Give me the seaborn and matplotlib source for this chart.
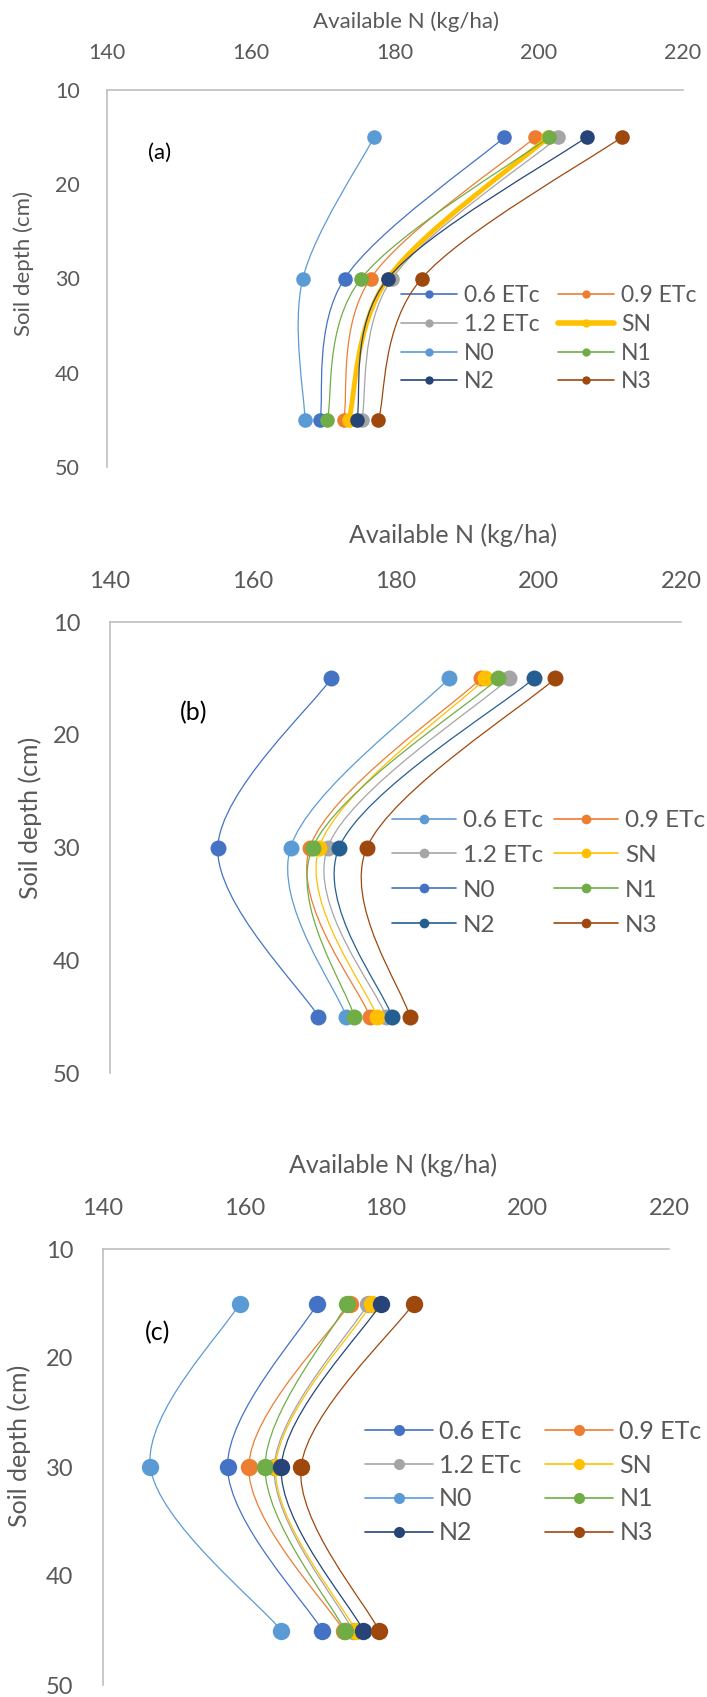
import numpy as np
import pandas as pd
import matplotlib
matplotlib.use('Agg')
import matplotlib.pyplot as plt
import seaborn as sns
from matplotlib.path import Path
from matplotlib.patches import PathPatch
from matplotlib.lines import Line2D

# --- data ---
depth = [15, 30, 45]
series = ['0.6 ETc', '0.9 ETc', '1.2 ETc', 'SN', 'N0', 'N1', 'N2', 'N3']

# panel (a)
a_06 = [195.2, 173.0, 169.6]
a_09 = [199.5, 176.6, 172.9]
a_12 = [202.7, 179.6, 175.4]
a_sn = [201.3, 179.0, 173.6]
a_n0 = [177.1, 167.2, 167.5]
a_n1 = [201.4, 175.3, 170.6]
a_n2 = [206.6, 179.0, 174.7]
a_n3 = [211.5, 183.7, 177.7]

# panel (b)
b_06 = [187.5, 165.3, 173.1]
b_09 = [192.0, 168.0, 176.4]
b_12 = [195.9, 170.5, 178.7]
b_sn = [192.6, 169.3, 177.4]
b_n0 = [171.0, 155.1, 169.2]
b_n1 = [194.4, 168.4, 174.2]
b_n2 = [199.4, 172.1, 179.5]
b_n3 = [202.4, 176.0, 182.0]

# panel (c)
c_06 = [170.3, 157.6, 171.0]
c_09 = [174.9, 160.6, 174.0]
c_12 = [177.5, 164.2, 175.3]
c_sn = [178.0, 164.4, 175.7]
c_n0 = [159.3, 146.7, 165.2]
c_n1 = [174.5, 162.9, 174.2]
c_n2 = [179.3, 165.2, 176.8]
c_n3 = [183.9, 168.0, 179.0]

x_ticks = [140, 160, 180, 200, 220]
y_ticks = [10, 20, 30, 40, 50]

colors_ac = ['#4472C4', '#ED7D31', '#A5A5A5', '#FFC000', '#5B9BD5', '#70AD47', '#264478', '#9E480E']
colors_b = ['#5B9BD5', '#ED7D31', '#A5A5A5', '#FFC000', '#4472C4', '#70AD47', '#255E91', '#9E480E']


def long_df(vals):
    rows = []
    for name, v in zip(series, vals):
        for d, n in zip(depth, v):
            rows.append({'series': name, 'depth': d, 'N': n})
    return pd.DataFrame(rows)


df_a = long_df([a_06, a_09, a_12, a_sn, a_n0, a_n1, a_n2, a_n3])
df_b = long_df([b_06, b_09, b_12, b_sn, b_n0, b_n1, b_n2, b_n3])
df_c = long_df([c_06, c_09, c_12, c_sn, c_n0, c_n1, c_n2, c_n3])

# --- style ---
sns.set_theme(style='white')
plt.rcParams['font.family'] = ['Lato', 'DejaVu Sans']
TXT = '#595959'
AX = '#BFBFBF'

W, H = 707, 1697
fig = plt.figure(figsize=(W / 100, H / 100), dpi=100)
fig.patch.set_facecolor('white')


def px(x, y):
    return x / W, 1 - y / H


def smooth_path(xs, ys):
    # Excel-like smoothed line: cubic Bezier through the points
    pts = list(zip(xs, ys))
    n = len(pts)
    verts = [pts[0]]
    codes = [Path.MOVETO]
    for i in range(n - 1):
        p0 = pts[max(i - 1, 0)]
        p1 = pts[i]
        p2 = pts[i + 1]
        p3 = pts[min(i + 2, n - 1)]
        c1 = (p1[0] + (p2[0] - p0[0]) / 6, p1[1] + (p2[1] - p0[1]) / 6)
        c2 = (p2[0] - (p3[0] - p1[0]) / 6, p2[1] - (p3[1] - p1[1]) / 6)
        verts += [c1, c2, p2]
        codes += [Path.CURVE4] * 3
    return Path(verts, codes)


# legend is filled row by row (2 columns)
leg_order = [0, 2, 4, 6, 1, 3, 5, 7]


def panel(box, df, colors, fs, lfs, tag, tag_xy, title_xy, ylab_xy, ms, leg):
    left, top, right, bottom = box
    ax = fig.add_axes([left / W, 1 - bottom / H, (right - left) / W, (bottom - top) / H])
    for k, name in enumerate(series):
        sub = df[df['series'] == name]
        lw = 3.5 if (name == 'SN' and tag == '(a)') else 0.9
        ax.add_patch(PathPatch(smooth_path(sub['N'].values, sub['depth'].values),
                               facecolor='none', edgecolor=colors[k], lw=lw, zorder=2 + k))
        sns.scatterplot(data=sub, x='N', y='depth', color=colors[k], s=ms ** 2,
                        linewidth=0, ax=ax, zorder=2.5 + k, legend=False)
    ax.set_xlim(140, 220)
    ax.set_ylim(50, 10)
    ax.set_xticks(x_ticks)
    ax.set_yticks(y_ticks)
    ax.xaxis.tick_top()
    ax.tick_params(length=0, labelsize=fs, colors=TXT, pad=fs * 1.25)
    ax.set_xlabel('')
    ax.set_ylabel('')
    for s in ['right', 'bottom']:
        ax.spines[s].set_visible(False)
    for s in ['left', 'top']:
        ax.spines[s].set_color(AX)
        ax.spines[s].set_linewidth(1.2)
    ax.set_facecolor('white')

    fig.text(*px(*title_xy), 'Available N (kg/ha)', ha='center', va='center', fontsize=lfs, color=TXT)
    fig.text(*px(*ylab_xy), 'Soil depth (cm)', ha='center', va='center', rotation=90,
             fontsize=lfs, color=TXT)
    fig.text(*px(*tag_xy), tag, ha='center', va='center', fontsize=lfs, color='black')

    handles = []
    for k, name in enumerate(series):
        lw = 4 if (name == 'SN' and tag == '(a)') else 1.2
        handles.append(Line2D([], [], color=colors[k], lw=lw, marker='o',
                              markersize=leg['ms'], markeredgewidth=0))
    ax.legend([handles[i] for i in leg_order], [series[i] for i in leg_order],
              ncol=2, loc='upper left', frameon=False,
              bbox_to_anchor=px(*leg['xy']), bbox_transform=fig.transFigure,
              fontsize=leg['fs'], labelcolor=TXT, borderpad=0, borderaxespad=0,
              handlelength=leg['hl'], handletextpad=leg['htp'],
              columnspacing=leg['cs'], labelspacing=leg['ls'])
    return ax


panel((107, 90, 683, 467), df_a, colors_ac, 15.5, 16, '(a)', (160, 153), (406, 22), (24, 263), 10.5,
      dict(xy=(401, 285), fs=16.5, ms=6, hl=2.44, htp=0.3, cs=0.83, ls=0.34))
panel((110, 622, 681, 1073), df_b, colors_b, 17, 18, '(b)', (194, 713), (453, 535), (30, 818), 11.5,
      dict(xy=(392, 810), fs=17.5, ms=7, hl=2.64, htp=0.28, cs=0.45, ls=0.57))
panel((103, 1249, 669, 1685), df_c, colors_ac, 17, 18, '(c)', (158, 1333), (393, 1165), (19, 1446), 12.5,
      dict(xy=(365, 1420), fs=18, ms=8, hl=2.72, htp=0.24, cs=0.96, ls=0.43))

fig.savefig('out.png', dpi=100, facecolor='white')
